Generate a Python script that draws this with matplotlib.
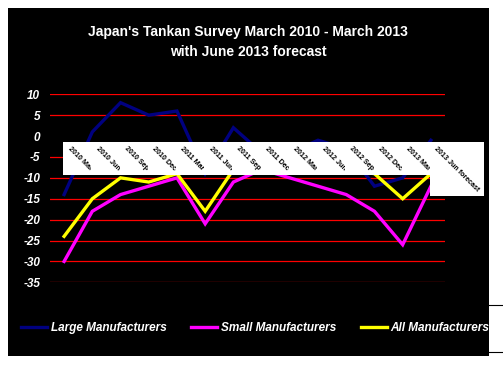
import matplotlib
matplotlib.use("Agg")
import matplotlib.pyplot as plt
from matplotlib.patches import Rectangle
from matplotlib.lines import Line2D
from matplotlib.transforms import IdentityTransform, ScaledTranslation
import numpy as np

plt.rcParams["font.family"] = ["Liberation Sans", "DejaVu Sans"]
plt.rcParams["axes.unicode_minus"] = False

# ---- data ----
categories = [
    "2010 Mar", "2010 Jun", "2010 Sep", "2010 Dec",
    "2011 Mar", "2011 Jun", "2011 Sep", "2011 Dec",
    "2012 Mar", "2012 Jun", "2012 Sep", "2012 Dec",
    "2013 Mar", "2013 Jun forecast",
]
large_mfg = [-14, 1, 8, 5, 6, -9, 2, -4, -4, -1, -3, -12, -10, -1]
small_mfg = [-30, -18, -14, -12, -10, -21, -11, -8, -10, -12, -14, -18, -26, -12]
all_mfg = [-24, -15, -10, -11, -9, -18, -8, -7, -7, -7, -8, -9, -15, -9]
y_ticks = [10, 5, 0, -5, -10, -15, -20, -25, -30, -35]

series = [
    ("Large Manufacturers", large_mfg, "#000080"),
    ("Small Manufacturers", small_mfg, "#FF00FF"),
    ("All Manufacturers", all_mfg, "#FFFF00"),
]

W, H = 503, 366
fig = plt.figure(figsize=(W / 100, H / 100), dpi=100, facecolor="white")

# black chart area
fig.patches.append(Rectangle((8 / W, 10 / H), 481 / W, 348 / H,
                             transform=fig.transFigure, facecolor="black",
                             edgecolor="none", zorder=-1))
# stray border bits at the right edge
for yy in (305, 352):
    fig.lines.append(Line2D([489 / W, 1.0], [1 - yy / H, 1 - yy / H],
                            transform=fig.transFigure, color="black", lw=0.8))

ax = fig.add_axes([50 / W, 1 - 282.3 / H, 395 / W, 188 / H])
ax.set_zorder(1)
ax.set_facecolor("none")
for s in ax.spines.values():
    s.set_visible(False)

x = np.arange(len(categories))

# red gridlines (the zero line is the black category axis)
for v in y_ticks:
    if v != 0:
        ax.axhline(v, color="#FF0000", lw=0.9, zorder=1)

for name, vals, col in series:
    ax.plot(x, vals, color=col, lw=2.4, solid_joinstyle="miter", zorder=3, label=name)

ax.set_xlim(-0.5, len(categories) - 0.5)
ax.set_ylim(-35, 10)
ax.set_yticks(y_ticks)
ax.set_yticklabels([str(v) for v in y_ticks], color="white", fontsize=8.5,
                   fontweight="bold", fontstyle="italic")
ax.tick_params(axis="y", length=0, pad=7)
ax.set_xticks([])

# category labels, rotated, each on its own white box
offset = ScaledTranslation(7 / 100, -9 / 100, fig.dpi_scale_trans)
label_texts = []
for i, cat in enumerate(categories):
    t = ax.text(i, 0, cat, transform=ax.transData + offset, rotation=-45,
                rotation_mode="anchor", ha="left", va="top", fontsize=5.1,
                fontweight="bold", color="black", zorder=11 + 2 * i,
                clip_on=False)
    label_texts.append(t)

fig.canvas.draw()
renderer = fig.canvas.get_renderer()
pad = 3
for i, t in enumerate(label_texts):
    bb = t.get_window_extent(renderer)
    ax.add_patch(Rectangle((bb.x0 - pad, bb.y0 - pad), bb.width + 2 * pad,
                           bb.height + 2 * pad, transform=IdentityTransform(),
                           facecolor="white", edgecolor="none",
                           zorder=10 + 2 * i, clip_on=False))

# title
fig.text(248 / W, 1 - 32 / H, "Japan's Tankan Survey March 2010 - March 2013",
         ha="center", va="center", color="white", fontsize=10, fontweight="bold")
fig.text(248 / W, 1 - 52 / H, "with June 2013 forecast",
         ha="center", va="center", color="white", fontsize=10, fontweight="bold")

# legend
handles, labels = ax.get_legend_handles_labels()
fig.legend(handles, labels, loc="center", bbox_to_anchor=(255 / W, 1 - 328 / H),
           ncol=3, frameon=False, labelcolor="white", handlelength=2.2,
           handletextpad=0.3, columnspacing=2.1,
           prop={"size": 8.5, "weight": "bold", "style": "italic"})

fig.savefig("out.png", dpi=100, facecolor="white")
